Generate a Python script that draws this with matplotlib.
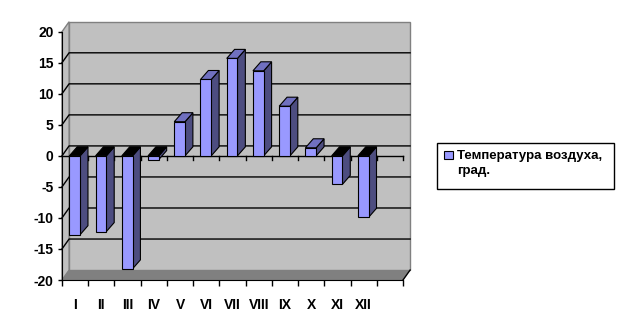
import matplotlib
matplotlib.use('Agg')
import matplotlib.pyplot as plt
from matplotlib.patches import Polygon, Rectangle

# monthly air temperature, deg C
months = ['I', 'II', 'III', 'IV', 'V', 'VI', 'VII', 'VIII', 'IX', 'X', 'XI', 'XII']
temps = [-12.7, -12.2, -18.2, -0.6, 5.5, 12.3, 15.7, 13.7, 8.0, 1.3, -4.6, -9.9]
yticks = [-20, -15, -10, -5, 0, 5, 10, 15, 20]
legend_label = 'Температура воздуха,\nград.'

n_slots = 13          # Excel left an empty 13th category
wall_dx, wall_dy = 0.27, 1.6    # 3d depth of the walls (data units)
bar_dx, bar_dy = 0.30, 1.45     # 3d depth of the bars
bar_off, bar_w = 0.28, 0.41

face_col = '#9999FF'
side_col = '#4D4D80'
top_col = '#7070C0'
wall_col = '#C0C0C0'
floor_col = '#808080'

plt.rcParams['font.family'] = ['Liberation Sans', 'DejaVu Sans']
plt.rcParams['font.weight'] = 'bold'
plt.rcParams['font.size'] = 10
plt.rcParams['axes.unicode_minus'] = False

fig = plt.figure(figsize=(6.27, 3.30), dpi=100)
ax = fig.add_axes([62 / 627, 50 / 330, 341 / 627, 248.3 / 330])
ax.set_xlim(0, n_slots)
ax.set_ylim(-20, 20)
ax.patch.set_visible(False)

ymin, ymax = yticks[0], yticks[-1]

# walls and floor
back = Polygon([(wall_dx, ymin + wall_dy), (n_slots + wall_dx, ymin + wall_dy),
                (n_slots + wall_dx, ymax + wall_dy), (wall_dx, ymax + wall_dy)],
               closed=True, fc=wall_col, ec='#808080', lw=1, zorder=0, clip_on=False)
left = Polygon([(0, ymin), (wall_dx, ymin + wall_dy), (wall_dx, ymax + wall_dy), (0, ymax)],
               closed=True, fc=wall_col, ec='#808080', lw=1, zorder=0, clip_on=False)
floor = Polygon([(0, ymin), (n_slots, ymin), (n_slots + wall_dx, ymin + wall_dy), (wall_dx, ymin + wall_dy)],
                closed=True, fc=floor_col, ec='none', zorder=0.5, clip_on=False)
for p in (back, left, floor):
    ax.add_patch(p)
ax.plot([n_slots, n_slots + wall_dx], [ymin, ymin + wall_dy], color='black', lw=1, zorder=1, clip_on=False)

# gridlines on back and left wall
for v in yticks[1:-1]:
    ax.plot([0, wall_dx, n_slots + wall_dx], [v, v + wall_dy, v + wall_dy],
            color='black', lw=1, zorder=1, clip_on=False)

# category axis at zero
ax.plot([0, n_slots], [0, 0], color='black', lw=1, zorder=1.5, clip_on=False)
for k in range(1, n_slots + 1):
    ax.plot([k, k], [0, -0.65], color='black', lw=1, zorder=1.5, clip_on=False)

# bars
xs = [i + bar_off for i in range(len(temps))]
ax.bar(xs, temps, width=bar_w, align='edge', color=face_col, edgecolor='black', lw=0.8, zorder=3)
for x0, v in zip(xs, temps):
    x1 = x0 + bar_w
    lo, hi = min(v, 0), max(v, 0)
    side = Polygon([(x1, lo), (x1, hi), (x1 + bar_dx, hi + bar_dy), (x1 + bar_dx, lo + bar_dy)],
                   closed=True, fc=side_col, ec='black', lw=0.8, zorder=2.5)
    top = Polygon([(x0, hi), (x1, hi), (x1 + bar_dx, hi + bar_dy), (x0 + bar_dx, hi + bar_dy)],
                  closed=True, fc=top_col if v > 0 else 'black', ec='black', lw=0.8, zorder=2.5)
    ax.add_patch(side)
    ax.add_patch(top)

# axes
for s in ('top', 'right'):
    ax.spines[s].set_visible(False)
ax.spines['left'].set_color('black')
ax.spines['bottom'].set_color('black')
ax.spines['left'].set_zorder(4)
ax.set_yticks(yticks)
ax.tick_params(axis='y', direction='out', length=3, width=1, pad=3)
ax.set_xticks(range(n_slots + 1))
ax.set_xticklabels([])
ax.set_xticks([k + 0.5 for k in range(n_slots)], minor=True)
ax.set_xticklabels(months + [''], minor=True)
ax.tick_params(axis='x', which='major', direction='out', length=4, width=1)
ax.tick_params(axis='x', which='minor', length=0, pad=13)

# legend box
fig.add_artist(Rectangle((437 / 627, (330 - 189) / 330), 177 / 627, 46 / 330,
                         transform=fig.transFigure, fc='white', ec='black', lw=1))
fig.add_artist(Rectangle((444 / 627, (330 - 159) / 330), 9 / 627, 8 / 330,
                         transform=fig.transFigure, fc=face_col, ec='black', lw=0.8))
fig.text(457 / 627, (330 - 163.5) / 330, legend_label, ha='left', va='center',
         linespacing=1.25, fontsize=9.5, fontweight='bold')

fig.savefig('out.png', dpi=100, facecolor='white')
